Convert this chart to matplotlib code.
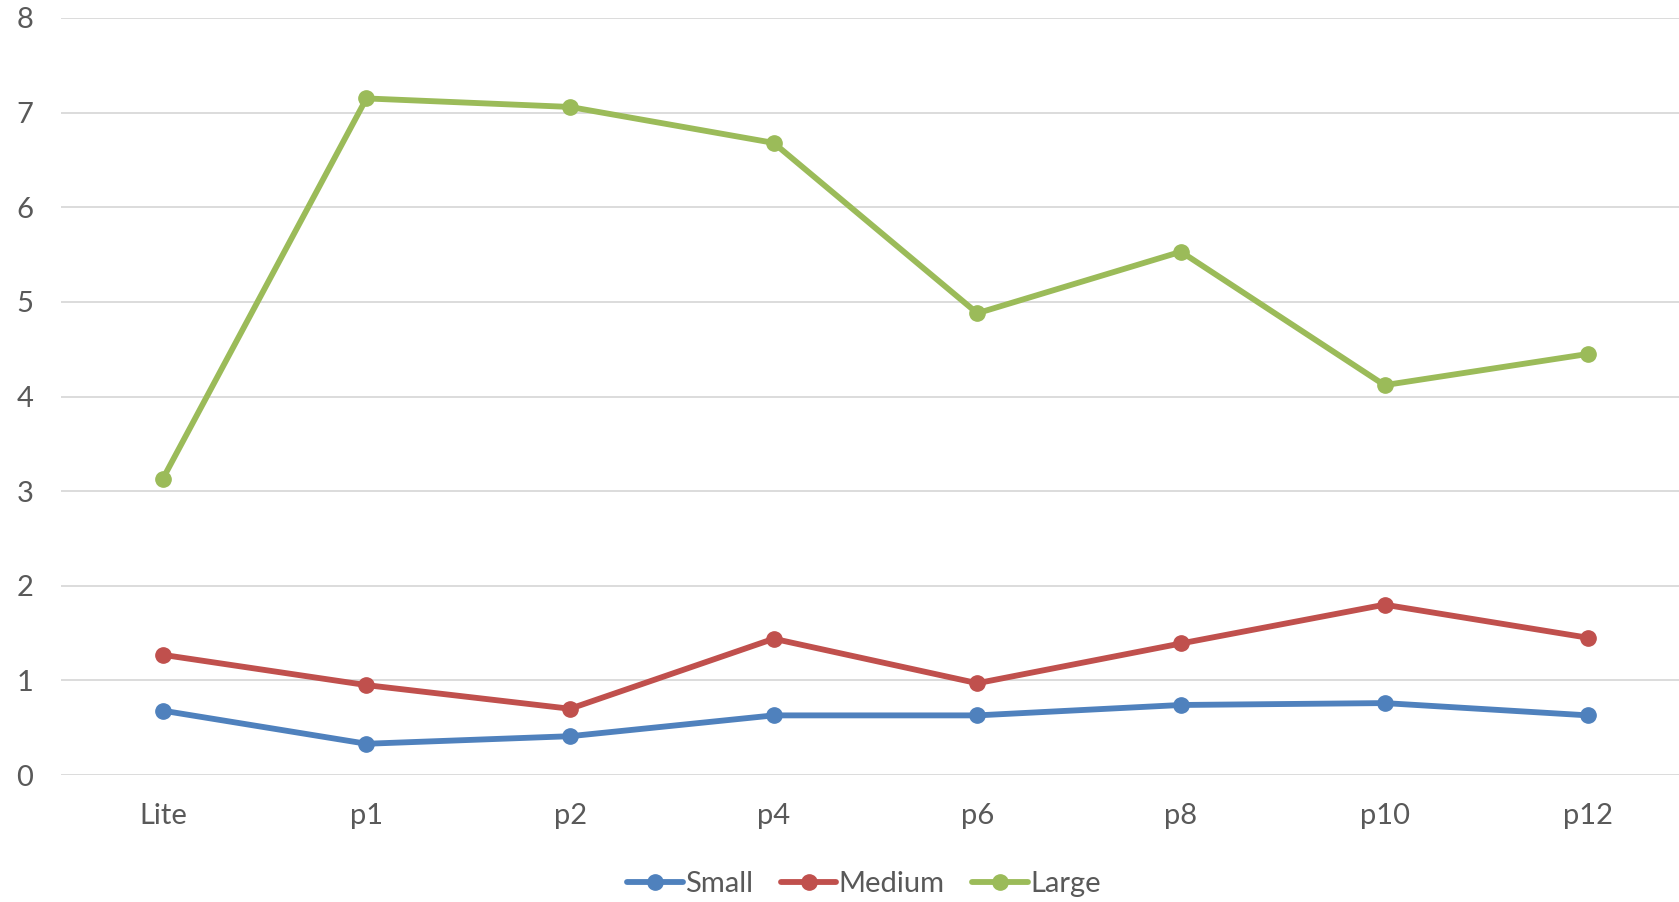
#!/usr/bin/env python3
"""Line chart of three sizes across configurations."""

import matplotlib
matplotlib.use("Agg")
import matplotlib.pyplot as plt

categories = ["Lite", "p1", "p2", "p4", "p6", "p8", "p10", "p12"]
small = [0.68, 0.33, 0.41, 0.63, 0.63, 0.74, 0.76, 0.63]
medium = [1.27, 0.95, 0.70, 1.44, 0.97, 1.39, 1.80, 1.45]
large = [3.13, 7.15, 7.06, 6.68, 4.88, 5.53, 4.12, 4.45]

series = [("Small", small, "#4F81BD"),
          ("Medium", medium, "#C0504D"),
          ("Large", large, "#9BBB59")]


def main():
    plt.rcParams["font.family"] = ["Lato", "DejaVu Sans"]
    fig = plt.figure(figsize=(16.79, 9.02), dpi=100)
    # plot area runs a little past the right edge of the canvas
    ax = fig.add_axes([61 / 1679, 127 / 902, 1629 / 1679, 757 / 902])

    x = range(len(categories))
    for name, vals, color in series:
        ax.plot(x, vals, color=color, lw=4.2, marker="o", ms=11,
                label=name, solid_capstyle="round")

    ax.set_ylim(0, 8)
    ax.set_xlim(-0.5, 7.5)
    ax.set_yticks(range(0, 9))
    ax.set_xticks(list(x))
    ax.set_xticklabels(categories)
    ax.grid(axis="y", color="#D9D9D9", lw=1.3)
    ax.set_axisbelow(True)
    for s in ax.spines.values():
        s.set_visible(False)
    ax.tick_params(length=0, labelsize=21, colors="#595959")
    ax.tick_params(axis="y", pad=20)
    ax.tick_params(axis="x", pad=20)

    fig.legend(loc="center", bbox_to_anchor=(864 / 1679, 1 - 884 / 902),
               ncol=3, frameon=False, fontsize=21, handlelength=1.9,
               handletextpad=0.08, columnspacing=0.95, labelcolor="#595959")

    fig.savefig("out.png", dpi=100)


if __name__ == "__main__":
    main()
